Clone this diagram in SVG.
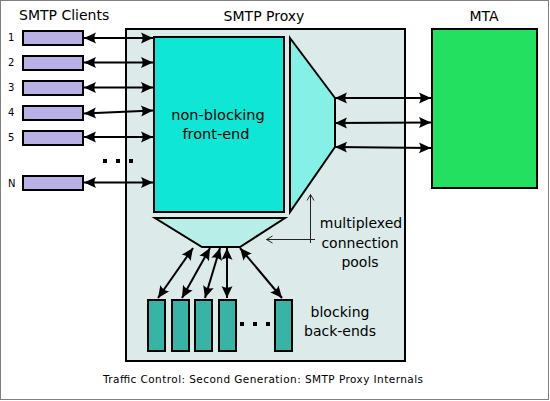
<svg xmlns="http://www.w3.org/2000/svg" width="550" height="401" viewBox="0 0 550 401">
<defs>
<style>
text{font-family:"DejaVu Sans","Liberation Sans",sans-serif;fill:#000}
.t14{font-size:14px}
.t10{font-size:10px}
.box{stroke:#000;stroke-width:2}
.client{fill:#b9b1e5}
.backend{fill:#38b4a6}
.conn{stroke:#000;stroke-width:2;fill:none;marker-start:url(#ah);marker-end:url(#ah)}
.thin{stroke:#222;stroke-width:1;fill:none}
</style>
<marker id="ah" markerUnits="userSpaceOnUse" markerWidth="16" markerHeight="14" viewBox="-13 -7 16 14" refX="0" refY="0" orient="auto-start-reverse" overflow="visible">
<path d="M-12,-5.5 L0,0 L-12,5.5 C-9.8,2.2 -9.8,-2.2 -12,-5.5 Z" fill="#000"/>
</marker>
<marker id="oh" markerUnits="userSpaceOnUse" markerWidth="10" markerHeight="10" viewBox="-8 -5 10 10" refX="0" refY="0" orient="auto" overflow="visible">
<path d="M-6,-3.5 L0,0 L-6,3.5" fill="none" stroke="#222" stroke-width="1"/>
</marker>
</defs>
<rect x="0" y="0" width="550" height="401" fill="#fff"/>
<rect x="0.5" y="0.5" width="548" height="399" fill="none" stroke="#808080" stroke-width="1"/>

<g id="proxy">
<rect x="126" y="29" width="279" height="332" fill="#dcebea" class="box"/>
<text class="t14" x="264" y="21" text-anchor="middle">SMTP Proxy</text>
</g>

<g id="clients-title"><text class="t14" x="19" y="20">SMTP Clients</text></g>

<g id="client-1"><rect class="box client" x="23" y="31" width="60" height="14"/><text class="t10" x="8" y="41">1</text></g>
<g id="client-2"><rect class="box client" x="23" y="56" width="60" height="14"/><text class="t10" x="8" y="66">2</text></g>
<g id="client-3"><rect class="box client" x="23" y="81" width="60" height="14"/><text class="t10" x="8" y="91">3</text></g>
<g id="client-4"><rect class="box client" x="23" y="106" width="60" height="14"/><text class="t10" x="8" y="116">4</text></g>
<g id="client-5"><rect class="box client" x="23" y="131" width="60" height="14"/><text class="t10" x="8" y="141">5</text></g>
<g id="client-dots"><rect x="103" y="159" width="4" height="4"/><rect x="116" y="159" width="4" height="4"/><rect x="129" y="159" width="4" height="4"/></g>
<g id="client-N"><rect class="box client" x="23" y="176" width="60" height="14"/><text class="t10" x="8" y="187">N</text></g>

<g id="front-end">
<rect x="154" y="37" width="130" height="175" fill="#10e6d6" class="box"/>
<text x="218" y="120" text-anchor="middle" style="font-size:14.5px">non-blocking</text>
<text x="216" y="139" text-anchor="middle" style="font-size:14.5px">front-end</text>
</g>

<g id="mux-right"><polygon points="290,38 335,98 335,147 290,212" fill="#84f0e6" class="box"/></g>
<g id="mux-bottom"><polygon points="155,218 285,218 240,247 202,247" fill="#b8eee8" class="box"/></g>

<g id="mta">
<rect x="432" y="29" width="105" height="159" fill="#24e060" class="box"/>
<text class="t14" x="484" y="21" text-anchor="middle">MTA</text>
</g>

<g id="backend-1"><rect class="box backend" x="148" y="300" width="17" height="51"/></g>
<g id="backend-2"><rect class="box backend" x="172" y="300" width="17" height="51"/></g>
<g id="backend-3"><rect class="box backend" x="195" y="300" width="17" height="51"/></g>
<g id="backend-4"><rect class="box backend" x="219" y="300" width="17" height="51"/></g>
<g id="backend-dots"><rect x="240" y="322" width="4" height="4"/><rect x="253" y="322" width="4" height="4"/><rect x="266" y="322" width="4" height="4"/></g>
<g id="backend-N"><rect class="box backend" x="275" y="300" width="17" height="51"/></g>

<g id="labels">
<text class="t14" x="361" y="228" text-anchor="middle">multiplexed</text>
<text class="t14" x="360" y="248" text-anchor="middle">connection</text>
<text class="t14" x="360" y="267" text-anchor="middle">pools</text>
<text class="t14" x="340" y="317" text-anchor="middle">blocking</text>
<text class="t14" x="340" y="336" text-anchor="middle">back-ends</text>
<text x="103" y="383" style="font-size:10.5px" textLength="320" lengthAdjust="spacing">Traffic Control: Second Generation: SMTP Proxy Internals</text>
</g>

<g id="connectors">
<line class="conn" x1="84" y1="38" x2="153" y2="38"/>
<line class="conn" x1="84" y1="62.5" x2="153" y2="62.5"/>
<line class="conn" x1="84" y1="87.5" x2="153" y2="87.5"/>
<line class="conn" x1="84" y1="113.5" x2="153" y2="110.5"/>
<line class="conn" x1="84" y1="137" x2="153" y2="137"/>
<line class="conn" x1="84" y1="182.5" x2="153" y2="182.5"/>
<line class="conn" x1="335" y1="98" x2="431" y2="98"/>
<line class="conn" x1="335" y1="123" x2="431" y2="122.5"/>
<line class="conn" x1="335" y1="147" x2="431" y2="148"/>
<line class="conn" x1="193" y1="248" x2="158" y2="298"/>
<line class="conn" x1="210" y1="248" x2="182" y2="298"/>
<line class="conn" x1="220" y1="248" x2="205" y2="298"/>
<line class="conn" x1="227" y1="248" x2="227" y2="298"/>
<line class="conn" x1="240" y1="248" x2="282" y2="298"/>
<line class="thin" x1="310.5" y1="243" x2="310.5" y2="194.5" marker-end="url(#oh)"/>
<line class="thin" x1="315" y1="239.5" x2="266.5" y2="239.5" marker-end="url(#oh)"/>
</g>
</svg>
